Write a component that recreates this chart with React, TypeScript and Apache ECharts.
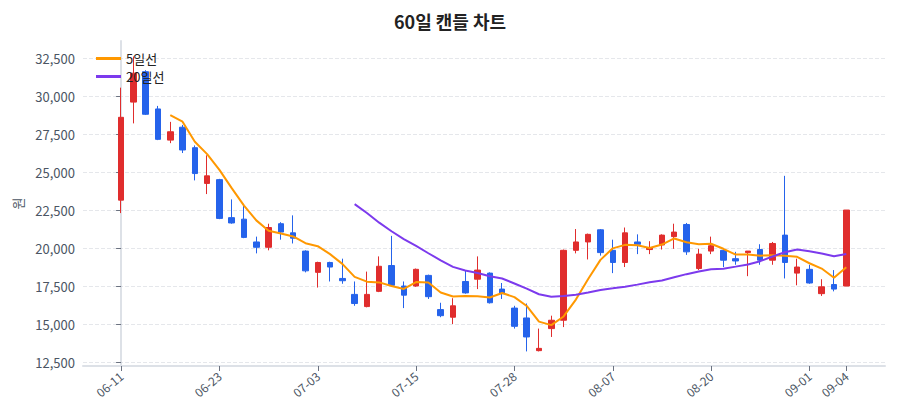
import React, { useEffect, useRef } from 'react';
import * as echarts from 'echarts';

// 거래일
const dates = [
  '06-11', '06-12', '06-13', '06-16', '06-17', '06-18', '06-19', '06-20', '06-23', '06-24',
  '06-25', '06-26', '06-27', '06-30', '07-01', '07-02', '07-03', '07-04', '07-07', '07-08',
  '07-09', '07-10', '07-11', '07-14', '07-15', '07-16', '07-18', '07-21', '07-22', '07-23',
  '07-24', '07-25', '07-28', '07-29', '07-30', '07-31', '08-01', '08-04', '08-05', '08-06',
  '08-07', '08-08', '08-11', '08-12', '08-13', '08-14', '08-18', '08-19', '08-20', '08-21',
  '08-22', '08-25', '08-26', '08-27', '08-28', '08-29', '09-01', '09-02', '09-03', '09-04',
];

// 시가 / 종가 / 저가 / 고가
const opens = [
  23150, 29600, 31600, 29150, 27100, 27950, 26600, 24250, 24500, 22000,
  21900, 20400, 20050, 21600, 21000, 19800, 18400, 19050, 18000, 16950,
  16150, 17150, 18850, 17500, 17500, 18200, 15950, 15450, 17800, 17950,
  18350, 17300, 16050, 15400, 13250, 14700, 15250, 19850, 20400, 21200,
  19850, 19050, 20400, 19900, 20200, 20750, 21550, 18650, 19800, 19850,
  19300, 19700, 19900, 19200, 20850, 18350, 18600, 17000, 17600, 17500,
];
const closes = [
  28600, 31500, 28800, 27150, 27650, 26450, 24900, 24750, 21950, 21650,
  20700, 20050, 21350, 21050, 20650, 18500, 19050, 18750, 17850, 16350,
  16950, 18800, 17550, 16900, 18600, 16800, 15550, 16200, 17050, 18550,
  16400, 17000, 14850, 14150, 13400, 15250, 19850, 20400, 20900, 19700,
  19050, 21000, 20250, 20000, 20850, 21050, 19750, 19600, 20150, 19200,
  19150, 19800, 19200, 20300, 19050, 18750, 17700, 17450, 17300, 22500,
];
const lows = [
  22300, 28200, 28750, 27100, 26900, 26250, 24450, 23550, 21900, 21600,
  20650, 19650, 19850, 20550, 20300, 18400, 17400, 17800, 17650, 16200,
  16100, 17100, 17450, 16050, 17450, 16650, 15450, 15000, 17000, 17300,
  16350, 16650, 14700, 13200, 13200, 14150, 14800, 19650, 19250, 19500,
  18350, 18750, 19600, 19600, 19900, 19950, 19550, 18550, 19600, 18750,
  18900, 18150, 18900, 18900, 18000, 17550, 17650, 16850, 17150, 17500,
];
const highs = [
  30550, 32600, 31700, 29350, 28300, 28100, 26750, 26100, 24550, 23200,
  22900, 20750, 21600, 21700, 22150, 19850, 19100, 19100, 19300, 17800,
  18450, 19450, 20800, 17800, 18650, 18250, 16400, 16700, 18550, 19450,
  18400, 17700, 16200, 16350, 14700, 15550, 19900, 21250, 20950, 21250,
  20550, 21350, 20900, 20450, 20900, 21600, 21650, 19950, 20750, 19900,
  19750, 19800, 20250, 20400, 24750, 19300, 18900, 17950, 18550, 22500,
];

const yTicks = [12500, 15000, 17500, 20000, 22500, 25000, 27500, 30000, 32500];
const xTicks = [0, 8, 16, 24, 32, 40, 48, 56, 59];

const movingAvg = (n: number) => {
  const out: number[][] = [];
  for (let i = n - 1; i < closes.length; i++) {
    let s = 0;
    for (let j = i - n + 1; j <= i; j++) s += closes[j];
    out.push([i, s / n]);
  }
  return out;
};

const App = () => {
  const chartRef = useRef<HTMLDivElement>(null);

  useEffect(() => {
    const chart = echarts.init(chartRef.current!, undefined, { renderer: 'svg' });
    const font = "'Noto Sans CJK KR', 'Noto Sans', sans-serif";

    chart.setOption({
      animation: false,
      textStyle: { fontFamily: font },
      title: {
        text: '60일 캔들 차트',
        left: 'center',
        top: 7,
        textStyle: { fontSize: 18, fontWeight: 'bold', color: '#222', fontFamily: font },
      },
      legend: {
        orient: 'vertical',
        left: 91,
        top: 47,
        icon: 'rect',
        itemWidth: 25,
        itemHeight: 3,
        itemGap: 5,
        data: ['5일선', '20일선'],
        textStyle: { fontSize: 13, color: '#222', fontFamily: font },
      },
      grid: { left: 83, right: 15, top: 41, bottom: 54 },
      xAxis: {
        type: 'value',
        min: -3.1,
        max: 62.15,
        splitLine: { show: false },
        axisLine: { lineStyle: { color: '#dde1e7', width: 2 } },
        axisTick: { customValues: xTicks, length: 5, lineStyle: { color: '#6b7280' } },
        axisLabel: {
          customValues: xTicks,
          formatter: (v: number) => dates[Math.round(v)] ?? '',
          rotate: 40,
          fontSize: 12,
          color: '#4b5563',
          margin: 8,
        },
      },
      yAxis: {
        type: 'value',
        min: 12240,
        max: 33620,
        name: '원',
        nameLocation: 'middle',
        nameGap: 54,
        nameTextStyle: { fontSize: 13, color: '#4b5563' },
        axisLine: { show: true, lineStyle: { color: '#dde1e7', width: 2 } },
        axisTick: { show: true, customValues: yTicks, length: 5, lineStyle: { color: '#6b7280' } },
        axisLabel: {
          customValues: yTicks,
          formatter: (v: number) => v.toLocaleString('en-US'),
          fontSize: 13,
          color: '#4b5563',
        },
        splitLine: { lineStyle: { type: 'dashed', color: '#e5e7eb' } },
      },
      series: [
        {
          type: 'candlestick',
          name: '캔들',
          barWidth: 6,
          encode: { x: 0, y: [1, 2, 3, 4] },
          data: dates.map((_, i) => [i, opens[i], closes[i], lows[i], highs[i]]),
          itemStyle: {
            color: '#e02d2d',
            color0: '#2563eb',
            borderColor: '#e02d2d',
            borderColor0: '#2563eb',
            borderWidth: 1,
          },
        },
        {
          type: 'line',
          name: '5일선',
          data: movingAvg(5),
          symbol: 'none',
          lineStyle: { color: '#ff9800', width: 2 },
          itemStyle: { color: '#ff9800' },
        },
        {
          type: 'line',
          name: '20일선',
          data: movingAvg(20),
          symbol: 'none',
          lineStyle: { color: '#7c3aed', width: 2 },
          itemStyle: { color: '#7c3aed' },
        },
      ],
    });

    return () => {
      chart.dispose();
    };
  }, []);

  return (
    <div
      ref={chartRef}
      style={{ position: 'absolute', left: 0, top: 0, width: '900px', height: '420px' }}
    ></div>
  );
};

export default App;
